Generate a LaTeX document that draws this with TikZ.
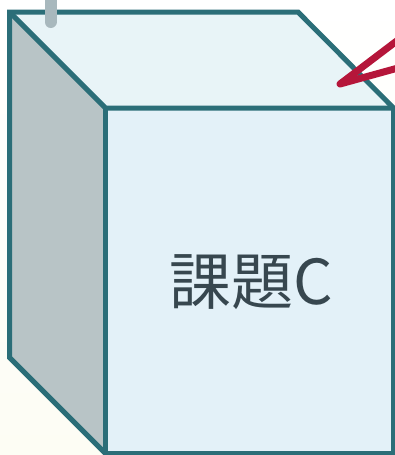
\documentclass[tikz,border=0pt]{standalone}
\usepackage{fontspec}
\newfontfamily\cjk{Noto Sans CJK JP}
\definecolor{edge}{HTML}{2B6E78}
\definecolor{sidec}{HTML}{B8C4C6}
\definecolor{topc}{HTML}{E8F4F7}
\definecolor{frontc}{HTML}{E3F1F8}
\definecolor{bgtop}{HTML}{FFFFFF}
\definecolor{bgbot}{HTML}{FDFDF4}
\definecolor{pin}{HTML}{A8B8BD}
\definecolor{crim}{HTML}{B5163A}
\definecolor{txt}{HTML}{37474F}
\tikzset{
  cubeedge/.style={draw=edge, line width=5pt, line join=miter},
  pinline/.style={draw=pin, line width=12pt, line cap=round},
  redline/.style={draw=crim, line width=7pt, line cap=round, line join=round},
  cubelabel/.style={font=\cjk\fontsize{62}{68}\selectfont, text=txt, inner sep=0pt}
}
\begin{document}
\begin{tikzpicture}[x=1pt,y=-1pt]
\useasboundingbox (0,0) rectangle (395,455);
\shade[top color=bgtop, bottom color=bgbot] (0,0) rectangle (395,455);
\coordinate (A) at (9.5,12);
\coordinate (B) at (298,12);
\coordinate (C) at (393.5,108);
\coordinate (D) at (105.5,108);
\coordinate (E) at (393.5,453.5);
\coordinate (F) at (105.5,453.5);
\coordinate (G) at (9.5,357.5);
\fill[sidec] (A) -- (D) -- (F) -- (G) -- cycle;
\fill[topc] (A) -- (B) -- (C) -- (D) -- cycle;
\fill[frontc] (D) -- (C) -- (E) -- (F) -- cycle;
\path[cubeedge] (A) -- (B) -- (C) -- (E) -- (F) -- (G) -- cycle;
\path[cubeedge] (A) -- (D) -- (C);
\path[cubeedge] (D) -- (F);
\coordinate (p1) at (50.5,-6);
\coordinate (p2) at (50.5,22);
\path[pinline] (p1) -- (p2);
\coordinate (r1) at (398,40);
\coordinate (r2) at (340,84);
\coordinate (r3) at (398,68);
\path[redline] (r1) -- (r2) -- (r3);
\node[cubelabel] (t) at (251,282) {課題C};
\end{tikzpicture}
\end{document}
